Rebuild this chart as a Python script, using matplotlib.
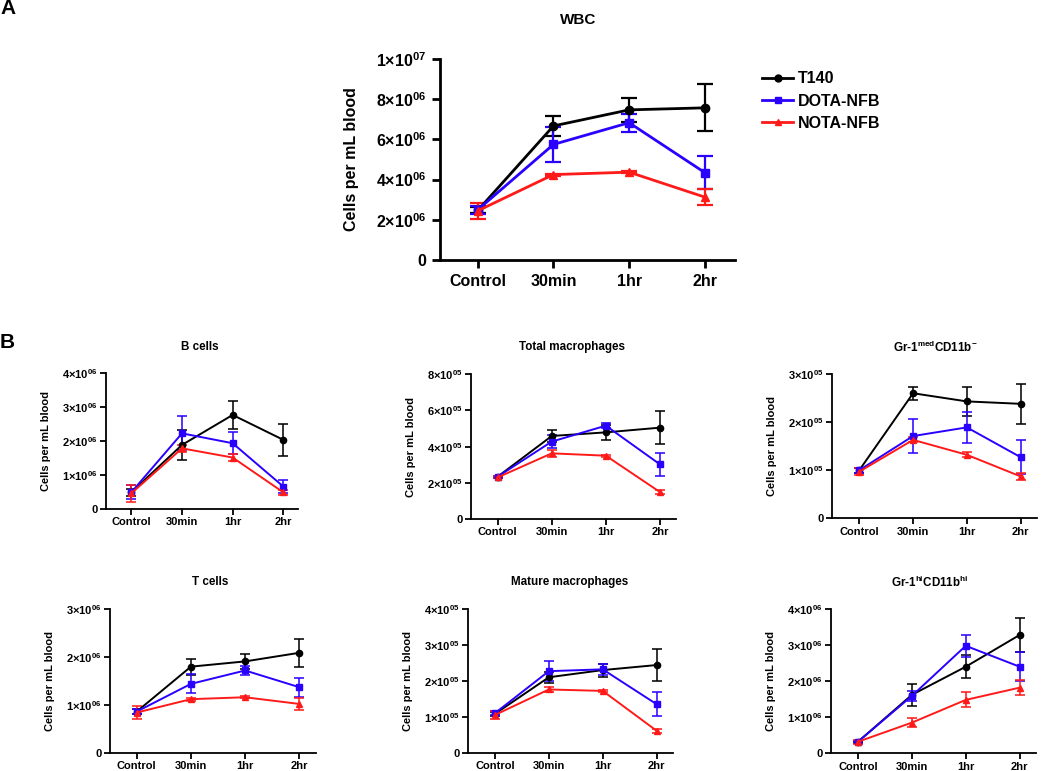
import matplotlib
matplotlib.use("Agg")
import matplotlib.pyplot as plt
from matplotlib.lines import Line2D

plt.rcParams['font.family'] = ['Liberation Sans', 'DejaVu Sans']
plt.rcParams['font.weight'] = 'bold'
plt.rcParams['mathtext.fontset'] = 'custom'
plt.rcParams['mathtext.rm'] = 'Liberation Sans:bold'
plt.rcParams['mathtext.bf'] = 'Liberation Sans:bold'
plt.rcParams['mathtext.it'] = 'Liberation Sans:bold'
plt.rcParams['mathtext.default'] = 'rm'

timepoints = ["Control", "30min", "1hr", "2hr"]
groups = ["T140", "DOTA-NFB", "NOTA-NFB"]
colors = ["black", "#2a00ff", "#ff1a1a"]
markers = ["o", "s", "^"]

# WBC (x 1e6)
wbc_t140 = [2.47, 6.67, 7.47, 7.57]
wbc_t140_err = [0.15, 0.5, 0.6, 1.17]
wbc_dota = [2.5, 5.75, 6.83, 4.35]
wbc_dota_err = [0.2, 0.85, 0.45, 0.8]
wbc_nota = [2.45, 4.25, 4.37, 3.13]
wbc_nota_err = [0.4, 0.05, 0.05, 0.4]

# B cells (x 1e6)
b_t140 = [0.49, 1.88, 2.76, 2.03]
b_t140_err = [0.1, 0.44, 0.4, 0.47]
b_dota = [0.49, 2.22, 1.93, 0.66]
b_dota_err = [0.2, 0.5, 0.32, 0.2]
b_nota = [0.46, 1.78, 1.51, 0.49]
b_nota_err = [0.24, 0.1, 0.1, 0.07]

# Total macrophages (x 1e5)
tm_t140 = [2.34, 4.59, 4.79, 5.05]
tm_t140_err = [0.05, 0.33, 0.42, 0.92]
tm_dota = [2.34, 4.28, 5.16, 3.02]
tm_dota_err = [0.05, 0.35, 0.15, 0.65]
tm_nota = [2.3, 3.63, 3.5, 1.49]
tm_nota_err = [0.05, 0.2, 0.05, 0.1]

# Gr-1med CD11b- (x 1e5)
gm_t140 = [1.0, 2.6, 2.43, 2.38]
gm_t140_err = [0.05, 0.14, 0.31, 0.41]
gm_dota = [1.0, 1.71, 1.89, 1.27]
gm_dota_err = [0.05, 0.35, 0.33, 0.35]
gm_nota = [0.97, 1.63, 1.32, 0.87]
gm_nota_err = [0.08, 0.05, 0.05, 0.07]

# T cells (x 1e6)
t_t140 = [0.86, 1.8, 1.91, 2.09]
t_t140_err = [0.05, 0.17, 0.15, 0.29]
t_dota = [0.86, 1.44, 1.72, 1.37]
t_dota_err = [0.05, 0.2, 0.1, 0.2]
t_nota = [0.84, 1.12, 1.16, 1.02]
t_nota_err = [0.13, 0.03, 0.02, 0.13]

# Mature macrophages (x 1e5)
mm_t140 = [1.08, 2.1, 2.3, 2.44]
mm_t140_err = [0.05, 0.15, 0.18, 0.45]
mm_dota = [1.1, 2.27, 2.32, 1.35]
mm_dota_err = [0.05, 0.28, 0.15, 0.33]
mm_nota = [1.05, 1.76, 1.72, 0.61]
mm_nota_err = [0.1, 0.07, 0.03, 0.06]

# Gr-1hi CD11bhi (x 1e6)
gh_t140 = [0.32, 1.62, 2.4, 3.28]
gh_t140_err = [0.03, 0.3, 0.32, 0.48]
gh_dota = [0.32, 1.59, 2.98, 2.4]
gh_dota_err = [0.03, 0.15, 0.3, 0.4]
gh_nota = [0.32, 0.85, 1.48, 1.82]
gh_nota_err = [0.05, 0.13, 0.21, 0.2]

W, H = 1050, 771


def rect(left, top, right, bottom):
    return [left / W, 1 - bottom / H, (right - left) / W, (bottom - top) / H]


def fmt(v, exp):
    if v == 0:
        return "0"
    return "%d×10$^{%02d}$" % (round(v), exp)


def panel(ax, series, errs, exp, yticks, big=False):
    lw = 2.0 if big else 1.4
    ms = 6 if big else 4.5
    cap = 6 if big else 3.5
    x = list(range(len(timepoints)))
    for vals, err, c, m in zip(series, errs, colors, markers):
        ax.errorbar(x, vals, yerr=err, color=c, marker=m, ms=ms, lw=lw,
                    capsize=cap, elinewidth=lw * 0.8, capthick=lw * 0.8,
                    clip_on=False)
    ax.set_xlim(-0.5, 3.3 if not big else 3.4)
    ax.set_ylim(0, yticks[-1])
    ax.set_xticks(x)
    ax.set_xticklabels(timepoints)
    ax.set_yticks(yticks)
    ax.set_yticklabels([fmt(v, exp) for v in yticks])
    for s in ["top", "right"]:
        ax.spines[s].set_visible(False)
    sw = 2.0 if big else 1.3
    for s in ["left", "bottom"]:
        ax.spines[s].set_linewidth(sw)
    ax.tick_params(width=sw, length=6 if big else 4, direction="out",
                   labelsize=11.5 if big else 8, pad=4 if big else 2)
    ax.set_ylabel("Cells per mL blood", fontsize=11.5 if big else 8,
                  fontweight="bold", labelpad=12 if big else 8)


fig = plt.figure(figsize=(10.5, 7.71), dpi=100)

ax = fig.add_axes(rect(440, 59, 735, 260))
panel(ax, [wbc_t140, wbc_dota, wbc_nota],
      [wbc_t140_err, wbc_dota_err, wbc_nota_err], 6,
      [0, 2, 4, 6, 8, 10], big=True)
ax.set_yticklabels(["0", fmt(2, 6), fmt(4, 6), fmt(6, 6), fmt(8, 6), fmt(1, 7)])
fig.text(578 / W, 1 - 20 / H, "WBC", fontsize=11, fontweight="bold",
         ha="center", va="center")

handles = [Line2D([], [], color=c, marker=m, ms=5, lw=2) for c, m in zip(colors, markers)]
fig.legend(handles, groups, loc="upper left", bbox_to_anchor=(748 / W, 1 - 57 / H),
           frameon=False, handlelength=1.9, labelspacing=0.45, handletextpad=0.35,
           prop={"weight": "bold", "size": 11.5})

small = [
    ("B cells", [b_t140, b_dota, b_nota], [b_t140_err, b_dota_err, b_nota_err], 6, [0, 1, 2, 3, 4],
     (106, 372.7, 106 + 192.5, 509), (200, 347)),
    ("Total macrophages", [tm_t140, tm_dota, tm_nota], [tm_t140_err, tm_dota_err, tm_nota_err], 5, [0, 2, 4, 6, 8],
     (470.6, 374.3, 470.6 + 205.6, 519), (572, 347)),
    ("Gr-1$^{med}$CD11b$^{-}$", [gm_t140, gm_dota, gm_nota], [gm_t140_err, gm_dota_err, gm_nota_err], 5, [0, 1, 2, 3],
     (832.4, 374, 832.4 + 204.4, 518.3), (935, 347)),
    ("T cells", [t_t140, t_dota, t_nota], [t_t140_err, t_dota_err, t_nota_err], 6, [0, 1, 2, 3],
     (109.6, 609.3, 109.6 + 206, 752.7), (210, 582)),
    ("Mature macrophages", [mm_t140, mm_dota, mm_nota], [mm_t140_err, mm_dota_err, mm_nota_err], 5, [0, 1, 2, 3, 4],
     (468, 609, 468 + 204.8, 752.7), (570, 582)),
    ("Gr-1$^{hi}$CD11b$^{hi}$", [gh_t140, gh_dota, gh_nota], [gh_t140_err, gh_dota_err, gh_nota_err], 6, [0, 1, 2, 3, 4],
     (831, 609, 831 + 204.8, 753.3), (930, 582)),
]

for title, series, errs, exp, yt, (l, t, r, b), (tx, ty) in small:
    ax = fig.add_axes(rect(l, t, r, b))
    panel(ax, series, errs, exp, yt)
    fig.text(tx / W, 1 - ty / H, title, fontsize=8.4, fontweight="bold",
             ha="center", va="center")

fig.text(0 / W, 1 - 9 / H, "A", fontsize=15, fontweight="bold", va="center")
fig.text(0 / W, 1 - 342 / H, "B", fontsize=15, fontweight="bold", va="center")

fig.savefig("out.png", dpi=100)
